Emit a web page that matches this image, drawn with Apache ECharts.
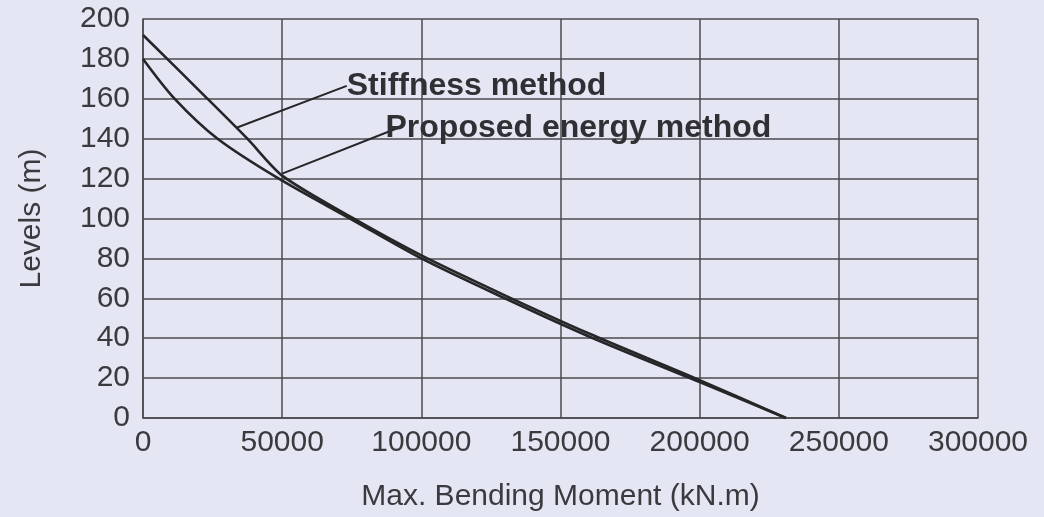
<!DOCTYPE html>
<html>
<head>
<meta charset="utf-8">
<script src="https://cdn.jsdelivr.net/npm/echarts@6/dist/echarts.min.js"></script>
<style>
  html, body { margin: 0; padding: 0; background: #e4e6f3; }
  #main { width: 1044px; height: 517px; }
</style>
</head>
<body>
<div id="main"></div>
<script>
// moment (kN.m) vs level (m)
var stiffMoment = [0, 23200, 37500, 50000, 75000, 100000, 130000, 160000, 200000, 231000];
var stiffLevel  = [192, 160, 140, 121.5, 100.5, 81.5, 61.5, 42.5, 19, 0];

var energyMoment = [0, 11400, 26800, 48200, 75000, 100000, 130000, 160000, 200000, 231000];
var energyLevel  = [180, 160, 140, 120.5, 99.5, 80, 60, 41, 18, 0];

// leader lines: [point on curve, label anchor]
var stiffLeader  = [[33600, 145.5], [73200, 166.5]];
var energyLeader = [[50000, 122.5], [91800, 145.5]];

var levelTicks = [0, 200, 20];
var momentTicks = [0, 300000, 50000];

function pairs(xs, ys) {
  var out = [];
  for (var i = 0; i < xs.length; i++) out.push([xs[i], ys[i]]);
  return out;
}

var ink = '#262629';
var font = '"Liberation Sans", Arial, sans-serif';

var chart = echarts.init(document.getElementById('main'));

var option = {
  backgroundColor: '#e5e6f4',
  animation: false,
  grid: {
    left: 143,
    right: 66,
    top: 19,
    bottom: 97
  },
  xAxis: {
    type: 'value',
    min: momentTicks[0],
    max: momentTicks[1],
    interval: momentTicks[2],
    name: 'Max. Bending Moment (kN.m)',
    nameLocation: 'middle',
    nameGap: 64,
    nameTextStyle: { color: '#3a3a3e', fontSize: 30, fontFamily: font },
    axisLine: { show: true, lineStyle: { color: '#4a4a4e', width: 1.5 } },
    axisTick: { show: false },
    axisLabel: {
      color: '#3a3a3e', fontSize: 30, fontFamily: font, margin: 10,
      formatter: function (v) { return String(v); }
    },
    splitLine: { show: true, lineStyle: { color: '#4a4a4e', width: 1.5 } }
  },
  yAxis: {
    type: 'value',
    min: levelTicks[0],
    max: levelTicks[1],
    interval: levelTicks[2],
    name: 'Levels (m)',
    nameLocation: 'middle',
    nameGap: 96,
    nameTextStyle: { color: '#3a3a3e', fontSize: 30, fontFamily: font },
    axisLine: { show: true, lineStyle: { color: '#4a4a4e', width: 1.5 } },
    axisTick: { show: false },
    axisLabel: { color: '#3a3a3e', fontSize: 30, fontFamily: font, margin: 13 },
    splitLine: { show: true, lineStyle: { color: '#4a4a4e', width: 1.5 } }
  },
  series: [{
    name: 'Stiffness method',
    type: 'line',
    data: pairs(stiffMoment, stiffLevel),
    smooth: 0.25,
    symbol: 'none',
    lineStyle: { color: ink, width: 2.6 },
    markLine: {
      silent: true,
      symbol: 'none',
      label: { show: false },
      lineStyle: { color: ink, width: 2, type: 'solid' },
      data: [[{ coord: stiffLeader[0] }, { coord: stiffLeader[1] }]]
    },
    markPoint: {
      symbolSize: 0,
      label: {
        show: true,
        position: 'right',
        distance: 0,
        formatter: 'Stiffness method',
        color: '#303034',
        fontSize: 32,
        fontWeight: 'bold',
        fontFamily: font
      },
      data: [{ coord: stiffLeader[1] }]
    }
  }, {
    name: 'Proposed energy method',
    type: 'line',
    data: pairs(energyMoment, energyLevel),
    smooth: 0.3,
    symbol: 'none',
    lineStyle: { color: ink, width: 2.6 },
    markLine: {
      silent: true,
      symbol: 'none',
      label: { show: false },
      lineStyle: { color: ink, width: 2, type: 'solid' },
      data: [[{ coord: energyLeader[0] }, { coord: energyLeader[1] }]]
    },
    markPoint: {
      symbolSize: 0,
      label: {
        show: true,
        position: 'right',
        distance: -13,
        formatter: 'Proposed energy method',
        color: '#303034',
        fontSize: 32,
        fontWeight: 'bold',
        fontFamily: font
      },
      data: [{ coord: energyLeader[1] }]
    }
  }]
};

chart.setOption(option);
</script>
</body>
</html>
